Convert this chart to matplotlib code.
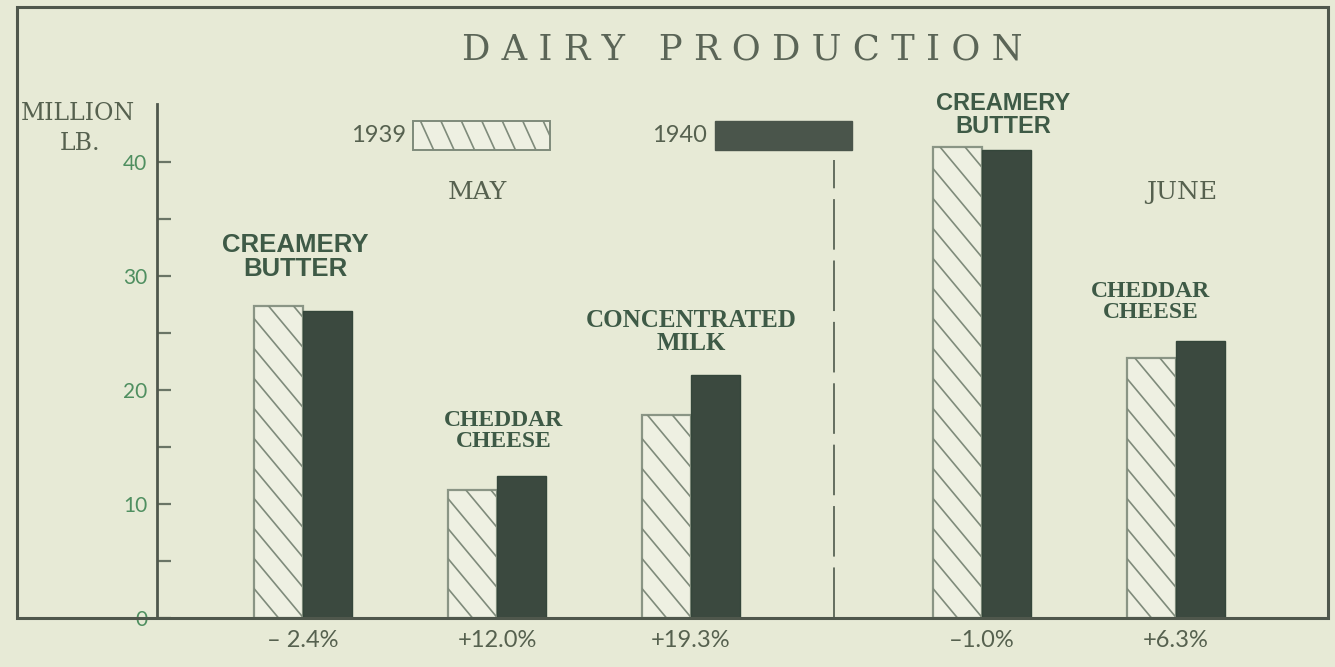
import numpy as np
import matplotlib.pyplot as plt
from matplotlib.patches import Rectangle

# Data (million lb.)
products = ["CREAMERY\nBUTTER", "CHEDDAR\nCHEESE", "CONCENTRATED\nMILK",
            "CREAMERY\nBUTTER", "CHEDDAR\nCHEESE"]
months = ["MAY", "JUNE"]
prod_1939 = [27.4, 11.2, 17.8, 41.3, 22.8]
prod_1940 = [26.9, 12.5, 21.3, 41.1, 24.3]
pct_change = ["\u2013 2.4%", "+12.0%", "+19.3%", "\u20131.0%", "+6.3%"]
yticks = [0, 10, 20, 30, 40]

# Layout
pos = np.array([0, 1, 2, 3.5, 4.5])
bar_w = 0.255
bg = "#e7ead6"
ink = "#56614f"
dark = "#3b493f"
tick_green = "#4f8f60"

fig = plt.figure(figsize=(13.35, 6.67), dpi=100, facecolor=bg)
ax = fig.add_axes([157 / 1335, 49 / 667, 1171 / 1335, 514 / 667])
ax.set_facecolor(bg)
ax.set_xlim(-0.7526, 5.2835)
ax.set_ylim(0, 45.1)

# Outer frame (its bottom edge is the baseline)
fig.add_artist(Rectangle((17 / 1335, 49 / 667), 1311 / 1335, 611 / 667,
                         transform=fig.transFigure, fill=False,
                         edgecolor="#4f574c", lw=2.2))

b39 = ax.bar(pos - bar_w / 2, prod_1939, bar_w, color="#eef0e2",
             edgecolor="#8a9585", lw=1.6, zorder=2)
b40 = ax.bar(pos + bar_w / 2, prod_1940, bar_w, color=dark,
             edgecolor="#34463a", lw=1.0, zorder=2)

# pixel scale for hand-style hatching
p0 = ax.transData.transform((0, 0))
p1 = ax.transData.transform((1, 1))
sx, sy = p1 - p0


def hatch(patch, slope=1.2, step_px=30):
    x0, y0 = patch.get_x(), patch.get_y()
    w, h = patch.get_width(), patch.get_height()
    drop = w * sx * slope / sy
    step = step_px / sy
    for ys in np.arange(y0, y0 + h + drop + step, step):
        ln, = ax.plot([x0, x0 + w], [ys, ys - drop], color="#7f8b7b",
                      lw=1.2, zorder=3, solid_capstyle="butt")
        ln.set_clip_path(patch)


for p in b39:
    hatch(p)

# Y axis
for s in ["top", "right", "bottom"]:
    ax.spines[s].set_visible(False)
ax.spines["left"].set_color("#4f574c")
ax.spines["left"].set_linewidth(2)
ax.set_yticks(yticks)
ax.set_yticks([5, 15, 25, 35], minor=True)
ax.tick_params(axis="y", which="both", direction="in", length=10, width=1.6,
               color="#6a7566", labelcolor=tick_green, labelsize=15, pad=7)
for lab in ax.get_yticklabels():
    lab.set_fontfamily("Lato")
ax.set_xticks([])

ax.text(-1.16, 44.3, "MILLION", ha="center", va="center", fontsize=17,
        family="DejaVu Serif", color=ink, clip_on=False)
ax.text(-1.15, 41.6, "LB.", ha="center", va="center", fontsize=17,
        family="DejaVu Serif", color=ink, clip_on=False)

# Title
fig.text(742 / 1335, 1 - 50 / 667, "D A I R Y   P R O D U C T I O N",
         ha="center", va="center", fontsize=25.5, family="DejaVu Serif",
         color="#5b6557")

# Legend
leg39 = Rectangle((0.567, 41.1), 0.706, 2.55, facecolor="#eef0e2",
                  edgecolor="#7f8b7b", lw=1.4, zorder=2)
ax.add_patch(leg39)
hatch(leg39, slope=2.2, step_px=45)
ax.add_patch(Rectangle((2.124, 41.1), 0.706, 2.55, facecolor="#4a554b",
                       edgecolor="#4a554b", lw=1, zorder=2))
ax.text(0.53, 42.35, "1939", ha="right", va="center", fontsize=17,
        family="Lato", color=ink)
ax.text(2.08, 42.35, "1940", ha="right", va="center", fontsize=17,
        family="Lato", color=ink)

# Month labels and divider
ax.text(0.90, 37.3, months[0], ha="center", va="center", fontsize=18,
        family="DejaVu Serif", color=ink)
ax.text(4.53, 37.3, months[1], ha="center", va="center", fontsize=18,
        family="DejaVu Serif", color=ink)
ax.plot([2.737, 2.737], [0, 40.2], color="#5a6456", lw=1.3,
        dashes=(28, 6), zorder=1)

# Product labels
lab_cfg = [
    (-0.04, 31.7, "Liberation Sans", "bold", 18.5),
    (0.036, 16.4, "Liberation Serif", "bold", 17),
    (0.0, 25.1, "Liberation Serif", "bold", 18),
    (0.11, 44.1, "Liberation Sans", "bold", 17),
    (-0.13, 27.7, "Liberation Serif", "bold", 17),
]
for i, (dx, yy, fam, wt, fs) in enumerate(lab_cfg):
    ax.text(pos[i] + dx, yy, products[i], ha="center", va="center",
            fontsize=fs, family=fam, fontweight=wt, color="#3e5a46",
            linespacing=1.0, clip_on=False)

# Percent change under each pair
for x, t in zip(pos, pct_change):
    ax.text(x, -0.043, t, transform=ax.get_xaxis_transform(), ha="center",
            va="center", fontsize=17, family="Lato", color=ink)

fig.savefig("out.png", dpi=100, facecolor=bg)
